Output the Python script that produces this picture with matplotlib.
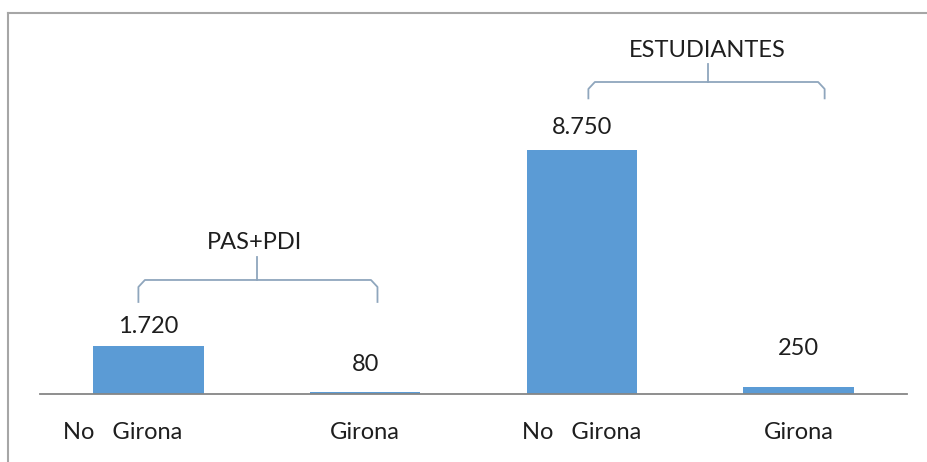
import matplotlib.pyplot as plt
import matplotlib.transforms as mtransforms
from matplotlib.lines import Line2D

# datos
categorias = ["No   Girona", "Girona", "No   Girona", "Girona"]
valores = [1720, 80, 8750, 250]
etiquetas = ["1.720", "80", "8.750", "250"]
grupos = ["PAS+PDI", "ESTUDIANTES"]

# estilo
plt.rcParams['font.family'] = ['Lato', 'DejaVu Sans']
color_barra = "#5b9bd5"
color_texto = "#1e1e1e"
color_llave = "#8fa6bd"
fs = 17

fig = plt.figure(figsize=(9.28, 4.62), dpi=100)
ax = fig.add_axes([40 / 928, 68 / 462, 867 / 928, 374 / 462])

x = list(range(len(categorias)))
ax.bar(x, valores, width=0.51, color=color_barra)
ax.set_xlim(-0.5, 3.5)
ax.set_ylim(0, 13410)

# etiquetas de valor (desplazamiento en pixeles sobre cada barra)
desp = [20, 27, 22, 39]
for xi, v, t, d in zip(x, valores, etiquetas, desp):
    ax.annotate(t, (xi, v), xytext=(0, d), textcoords='offset pixels',
                ha='center', va='center', fontsize=fs, color=color_texto)

ax.set_xticks(x)
ax.set_xticklabels(categorias, fontsize=fs, color=color_texto)
ax.tick_params(axis='x', length=0, pad=20)
ax.set_yticks([])
for s in ['top', 'right', 'left']:
    ax.spines[s].set_visible(False)
ax.spines['bottom'].set_color('#868686')
ax.spines['bottom'].set_linewidth(1.3)

# la primera etiqueta esta algo desplazada a la izquierda
lbl = ax.get_xticklabels()[0]
lbl.set_transform(lbl.get_transform() + mtransforms.ScaledTranslation(-0.26, 0, fig.dpi_scale_trans))


# llaves de los grupos
def llave(x0, x1, xm, y, y_ext, y_top):
    r = 0.03
    ax.plot([x0, x0, x0 + r, x1 - r, x1, x1], [y_ext, y - 250, y, y, y - 250, y_ext],
            color=color_llave, lw=1.3, solid_joinstyle='round')
    ax.plot([xm, xm], [y, y_top], color=color_llave, lw=1.3)


llave(-0.046, 1.057, 0.50, 4088, 3300, 4900)
ax.text(0.49, 5450, grupos[0], ha='center', va='center', fontsize=fs, color=color_texto)
llave(2.03, 3.12, 2.58, 11187, 10600, 11830)
ax.text(2.58, 12334, grupos[1], ha='center', va='center', fontsize=fs, color=color_texto)

# marco exterior (solo se ven lados superior e izquierdo)
ytop = 1 - 13 / 462
xizq = 8.5 / 928
fig.lines.append(Line2D([xizq, 1.0], [ytop, ytop], transform=fig.transFigure, color='#a6a6a6', lw=1.5))
fig.lines.append(Line2D([xizq, xizq], [0.0, ytop], transform=fig.transFigure, color='#a6a6a6', lw=1.5))

fig.savefig("out.png", dpi=100)
